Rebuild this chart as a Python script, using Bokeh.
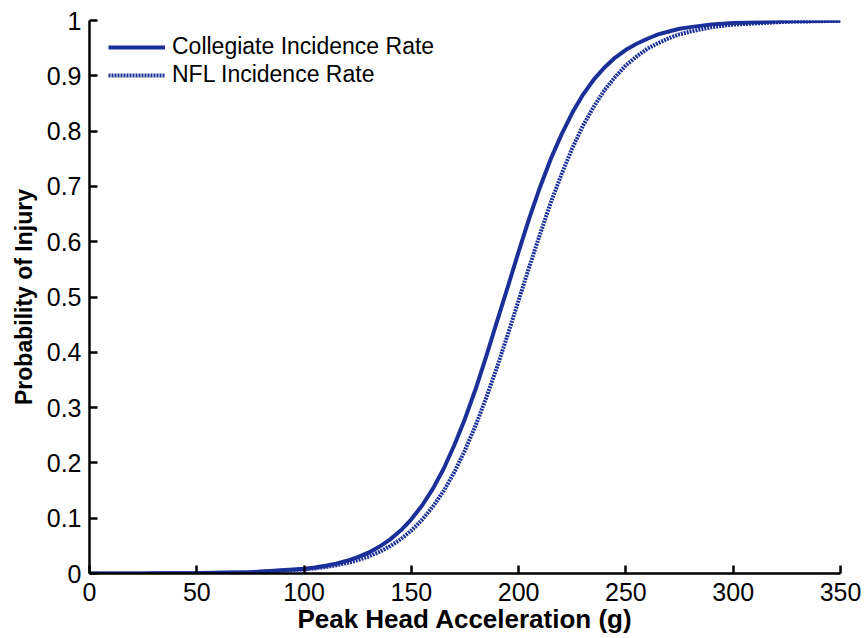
from bokeh.plotting import figure
from bokeh.models import Range1d, FixedTicker, CustomJSTickFormatter, Legend, LegendItem
from bokeh.embed import file_html
from bokeh.resources import INLINE

# Peak head acceleration (g) at which the risk curves are sampled
accel = [0, 25, 50, 75, 100, 105, 110, 115, 120, 125, 130, 135, 140, 145, 150,
         155, 160, 165, 170, 175, 180, 185, 190, 195, 200, 205, 210, 215, 220,
         225, 230, 235, 240, 245, 250, 255, 260, 265, 270, 275, 280, 290, 300,
         325, 350]

# Probability of injury, collegiate incidence rate
collegiate = [0.0001, 0.0002, 0.0007, 0.0024, 0.0084, 0.0109, 0.0140, 0.0179,
              0.0230, 0.0295, 0.0377, 0.0483, 0.0613, 0.0776, 0.0980, 0.123,
              0.153, 0.189, 0.232, 0.280, 0.334, 0.394, 0.457, 0.519, 0.582,
              0.643, 0.699, 0.750, 0.794, 0.833, 0.866, 0.893, 0.915, 0.933,
              0.947, 0.958, 0.967, 0.975, 0.980, 0.985, 0.988, 0.993, 0.9956,
              0.9988, 0.9997]

# Probability of injury, NFL incidence rate
nfl = [0.0001, 0.0002, 0.0006, 0.0021, 0.0072, 0.0092, 0.0117, 0.0149, 0.0190,
       0.0242, 0.0307, 0.0389, 0.0492, 0.0619, 0.0776, 0.0972, 0.121, 0.149,
       0.183, 0.223, 0.268, 0.319, 0.374, 0.433, 0.494, 0.555, 0.614, 0.671,
       0.722, 0.769, 0.810, 0.844, 0.874, 0.898, 0.919, 0.935, 0.949, 0.959,
       0.968, 0.975, 0.980, 0.988, 0.9925, 0.9978, 0.9993]

x_ticks = [0, 50, 100, 150, 200, 250, 300, 350]
y_ticks = [0, 0.1, 0.2, 0.3, 0.4, 0.5, 0.6, 0.7, 0.8, 0.9, 1]

BLUE = "#1b2f99"
FONT = "Liberation Sans"

p = figure(width=868, height=638, output_backend="svg", toolbar_location=None,
           x_range=Range1d(0, 350), y_range=Range1d(0, 1),
           min_border_left=89, min_border_right=28, min_border_top=20,
           min_border_bottom=65)
p.outline_line_color = None
p.xgrid.visible = False
p.ygrid.visible = False

r_col = p.line(accel, collegiate, line_color=BLUE, line_width=4)
r_nfl = p.line(accel, nfl, line_color=BLUE, line_width=4, line_dash="2 1")

for ax in (p.xaxis[0], p.yaxis[0]):
    ax.axis_line_width = 2.5
    ax.axis_line_color = "black"
    ax.major_tick_line_width = 2.5
    ax.major_tick_in = 8
    ax.major_tick_out = 0
    ax.minor_tick_in = 0
    ax.minor_tick_out = 0
    ax.major_label_text_font = FONT
    ax.major_label_text_font_size = "25px"
    ax.major_label_text_color = "black"
    ax.axis_label_text_font = FONT
    ax.axis_label_text_font_style = "bold"
    ax.axis_label_text_color = "black"

p.xaxis.axis_label_text_font_size = "26px"
p.yaxis.axis_label_text_font_size = "23px"
p.xaxis.ticker = FixedTicker(ticks=x_ticks)
p.yaxis.ticker = FixedTicker(ticks=y_ticks)
p.yaxis.formatter = CustomJSTickFormatter(
    code="return tick.toFixed(1).replace(/\\.0$/, '');")
p.xaxis.major_label_standoff = 9
p.yaxis.major_label_standoff = 8
p.xaxis.axis_label = "Peak Head Acceleration (g)"
p.yaxis.axis_label = "Probability of Injury"
p.xaxis.axis_label_standoff = 0
p.yaxis.axis_label_standoff = 7

legend = Legend(items=[LegendItem(label="Collegiate Incidence Rate", renderers=[r_col]),
                       LegendItem(label="NFL Incidence Rate", renderers=[r_nfl])],
                location=(19, 485), margin=0, padding=0, spacing=1,
                glyph_width=57, glyph_height=24, label_height=24,
                label_standoff=7, border_line_alpha=0, background_fill_alpha=0,
                label_text_font=FONT, label_text_font_size="23px",
                label_text_color="black")
p.add_layout(legend)

open("out.html", "w").write(file_html(p, INLINE))
